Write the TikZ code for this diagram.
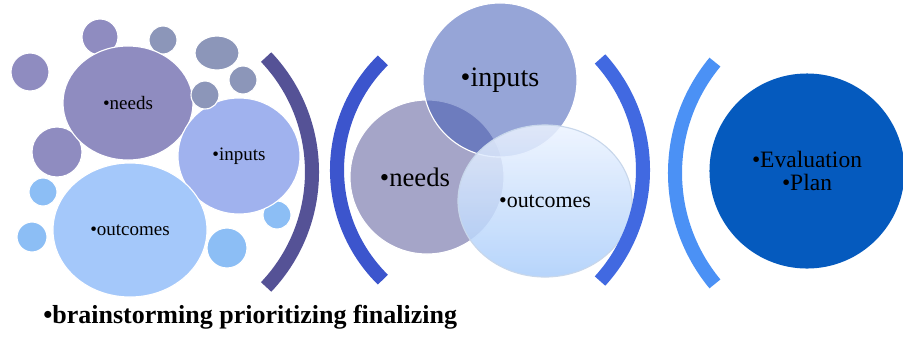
\documentclass[tikz,border=0pt]{standalone}
\usepackage{fontspec}
\setmainfont{Liberation Serif}
\usepackage{xcolor}
\usepackage{tikz}
\usetikzlibrary{shapes.geometric}

\definecolor{lavender}{RGB}{143,140,192}
\definecolor{slate}{RGB}{140,150,185}
\definecolor{periwinkle}{RGB}{160,178,238}
\definecolor{skyblue}{RGB}{164,200,250}
\definecolor{dropblue}{RGB}{140,190,245}
\definecolor{bracketA}{RGB}{85,82,150}
\definecolor{bracketB}{RGB}{60,85,205}
\definecolor{bracketC}{RGB}{65,105,225}
\definecolor{bracketD}{RGB}{75,145,245}
\definecolor{grape}{RGB}{165,165,200}
\definecolor{indigo}{RGB}{64,91,182}
\definecolor{royal}{RGB}{5,90,190}

\tikzset{
	bubble/.style={ellipse, draw=white, line width=0.8pt, inner sep=0pt},
	arcband/.style={line width=10pt},
	smalltxt/.style={font=\fontsize{13.5}{15}\selectfont},
}

\begin{document}
\begin{tikzpicture}[x=0.025cm, y=-0.025cm]
	\useasboundingbox (0,0) rectangle (903,351);
	% first group
	\node[bubble, fill=lavender, minimum width=0.9cm, minimum height=0.9cm] (dotA) at (100,37) {};
	\node[bubble, fill=slate, minimum width=0.7cm, minimum height=0.7cm] (dotB) at (163,40) {};
	\node[bubble, fill=slate, minimum width=1.1cm, minimum height=0.85cm] (dotC) at (217,53) {};
	\node[bubble, fill=slate, minimum width=0.7cm, minimum height=0.7cm] (dotD) at (243,80) {};
	\node[bubble, fill=lavender, minimum width=0.95cm, minimum height=0.95cm] (dotE) at (30,72) {};
	\node[bubble, fill=lavender, minimum width=1.25cm, minimum height=1.25cm] (dotF) at (57,152) {};
	\node[bubble, fill=dropblue, minimum width=0.7cm, minimum height=0.7cm] (dotG) at (43,192) {};
	\node[bubble, fill=dropblue, minimum width=0.75cm, minimum height=0.75cm] (dotH) at (32,237) {};
	\node[bubble, fill=dropblue, minimum width=0.7cm, minimum height=0.7cm] (dotI) at (277,215) {};
	\node[bubble, fill=dropblue, minimum width=1cm, minimum height=1cm] (dotJ) at (227,248) {};
	\node[bubble, fill=lavender, minimum width=3.25cm, minimum height=2.85cm, smalltxt] (needsA) at (128,103) {•needs};
	\node[bubble, fill=periwinkle, minimum width=3.05cm, minimum height=2.9cm, smalltxt] (inputsA) at (239,156) {•inputs};
	\node[bubble, fill=skyblue, minimum width=3.85cm, minimum height=3.35cm, smalltxt] (outcomesA) at (130,230) {•outcomes};
	\node[bubble, fill=slate, minimum width=0.7cm, minimum height=0.7cm] (dotK) at (205,95) {};
	\coordinate (arcA) at (145,172);
	\draw[arcband, bracketA] (arcA) ++(-43.5:167) arc[start angle=-43.5, end angle=43.5, radius=167];

	% second group
	\coordinate (arcB) at (491,170);
	\draw[arcband, bracketB] (arcB) ++(134.6:154) arc[start angle=134.6, end angle=225.4, radius=154];
	\node[bubble, fill=grape, minimum width=3.85cm, minimum height=3.85cm, font=\fontsize{19}{21}\selectfont] (needsB) at (427,177) {\hspace{-0.6cm}•needs};
	\node[bubble, fill=indigo, fill opacity=0.55, text opacity=1, minimum width=3.85cm, minimum height=3.85cm, font=\fontsize{20}{22}\selectfont] (inputsB) at (500,80) {•inputs};
	\node[ellipse, draw={rgb,255:red,200;green,215;blue,235}, line width=0.8pt, top color={rgb,255:red,236;green,243;blue,255}, bottom color={rgb,255:red,170;green,205;blue,250}, fill opacity=0.85, text opacity=1, minimum width=4.35cm, minimum height=3.8cm, font=\fontsize{15.6}{17}\selectfont] (outcomesB) at (545,201) {•outcomes};
	\coordinate (arcC) at (478,170);
	\draw[arcband, bracketC] (arcC) ++(-42.3:165) arc[start angle=-42.3, end angle=42.3, radius=165];

	% third group
	\coordinate (arcD) at (849,173);
	\draw[arcband, bracketD] (arcD) ++(140.4:174) arc[start angle=140.4, end angle=219.6, radius=174];
	\node[circle, fill=royal, minimum size=4.875cm, align=center, font=\fontsize{16.7}{17}\selectfont] (planC) at (807,171) {•Evaluation\\•Plan};

	\node[anchor=west, inner sep=0pt, font=\fontsize{18.5}{20}\selectfont\bfseries] (steps) at (43,317) {•brainstorming prioritizing finalizing};
\end{tikzpicture}
\end{document}
